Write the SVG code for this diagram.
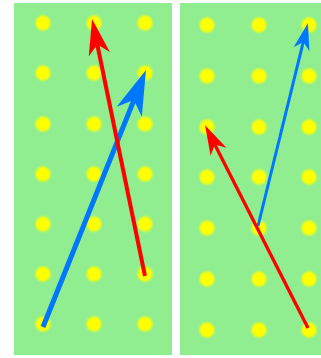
<svg xmlns="http://www.w3.org/2000/svg" width="321" height="358" viewBox="0 0 321 358">
<style>
.panel{fill:#90EE90}
.dot{fill:#FFFF00;filter:url(#soft)}
.blue{stroke:#0077FF;fill:none;stroke-linecap:butt}
.red{stroke:#FF0000;fill:none;stroke-linecap:butt}
</style>
<defs>
<filter id="soft" x="-50%" y="-50%" width="200%" height="200%"><feGaussianBlur stdDeviation="0.9"/></filter>
<marker id="hb" viewBox="0 -3 9 6" refX="2.5" refY="0" markerWidth="9" markerHeight="6" orient="auto" markerUnits="strokeWidth" overflow="visible"><path d="M0,-2.7 L9,0 L0,2.7 L2.5,0 Z" fill="#0077FF"/></marker>
<marker id="hr" viewBox="0 -3 9 6" refX="2.5" refY="0" markerWidth="9" markerHeight="6" orient="auto" markerUnits="strokeWidth" overflow="visible"><path d="M0,-2.7 L9,0 L0,2.7 L2.5,0 Z" fill="#FF0000"/></marker>
</defs>
<g id="left-panel">
<rect class="panel" x="14" y="3" width="158" height="352"/>
<g id="left-dots">
<circle class="dot" cx="43" cy="23" r="7.5"/><circle class="dot" cx="94" cy="23" r="7.5"/><circle class="dot" cx="145" cy="23" r="7.5"/>
<circle class="dot" cx="43" cy="73" r="7.5"/><circle class="dot" cx="94" cy="73" r="7.5"/><circle class="dot" cx="145" cy="73" r="7.5"/>
<circle class="dot" cx="43" cy="124" r="7.5"/><circle class="dot" cx="94" cy="124" r="7.5"/><circle class="dot" cx="145" cy="124" r="7.5"/>
<circle class="dot" cx="43" cy="174" r="7.5"/><circle class="dot" cx="94" cy="174" r="7.5"/><circle class="dot" cx="145" cy="174" r="7.5"/>
<circle class="dot" cx="43" cy="224" r="7.5"/><circle class="dot" cx="94" cy="224" r="7.5"/><circle class="dot" cx="145" cy="224" r="7.5"/>
<circle class="dot" cx="43" cy="274" r="7.5"/><circle class="dot" cx="94" cy="274" r="7.5"/><circle class="dot" cx="145" cy="274" r="7.5"/>
<circle class="dot" cx="43" cy="324" r="7.5"/><circle class="dot" cx="94" cy="324" r="7.5"/><circle class="dot" cx="145" cy="324" r="7.5"/>
</g>
</g>
<g id="right-panel">
<rect class="panel" x="180" y="3" width="141" height="352"/>
<g id="right-dots">
<circle class="dot" cx="207" cy="25" r="7.5"/><circle class="dot" cx="259" cy="25" r="7.5"/><circle class="dot" cx="309" cy="25" r="7.5"/>
<circle class="dot" cx="207" cy="76" r="7.5"/><circle class="dot" cx="259" cy="76" r="7.5"/><circle class="dot" cx="309" cy="76" r="7.5"/>
<circle class="dot" cx="207" cy="127" r="7.5"/><circle class="dot" cx="259" cy="127" r="7.5"/><circle class="dot" cx="309" cy="127" r="7.5"/>
<circle class="dot" cx="207" cy="177" r="7.5"/><circle class="dot" cx="259" cy="177" r="7.5"/><circle class="dot" cx="309" cy="177" r="7.5"/>
<circle class="dot" cx="207" cy="228" r="7.5"/><circle class="dot" cx="259" cy="228" r="7.5"/><circle class="dot" cx="309" cy="228" r="7.5"/>
<circle class="dot" cx="207" cy="279" r="7.5"/><circle class="dot" cx="259" cy="279" r="7.5"/><circle class="dot" cx="309" cy="279" r="7.5"/>
<circle class="dot" cx="207" cy="330" r="7.5"/><circle class="dot" cx="259" cy="330" r="7.5"/><circle class="dot" cx="309" cy="330" r="7.5"/>
</g>
</g>
<g id="connectors">
<line class="blue" x1="43" y1="327" x2="133.9" y2="100.1" stroke-width="5" marker-end="url(#hb)"/>
<line class="red" x1="145" y1="276" x2="97.3" y2="44.5" stroke-width="4" marker-end="url(#hr)"/>
<line class="blue" x1="258" y1="226" x2="303.3" y2="41.9" stroke-width="3" marker-end="url(#hb)"/>
<line class="red" x1="308" y1="328" x2="214.8" y2="144.4" stroke-width="3.3" marker-end="url(#hr)"/>
</g>
</svg>
